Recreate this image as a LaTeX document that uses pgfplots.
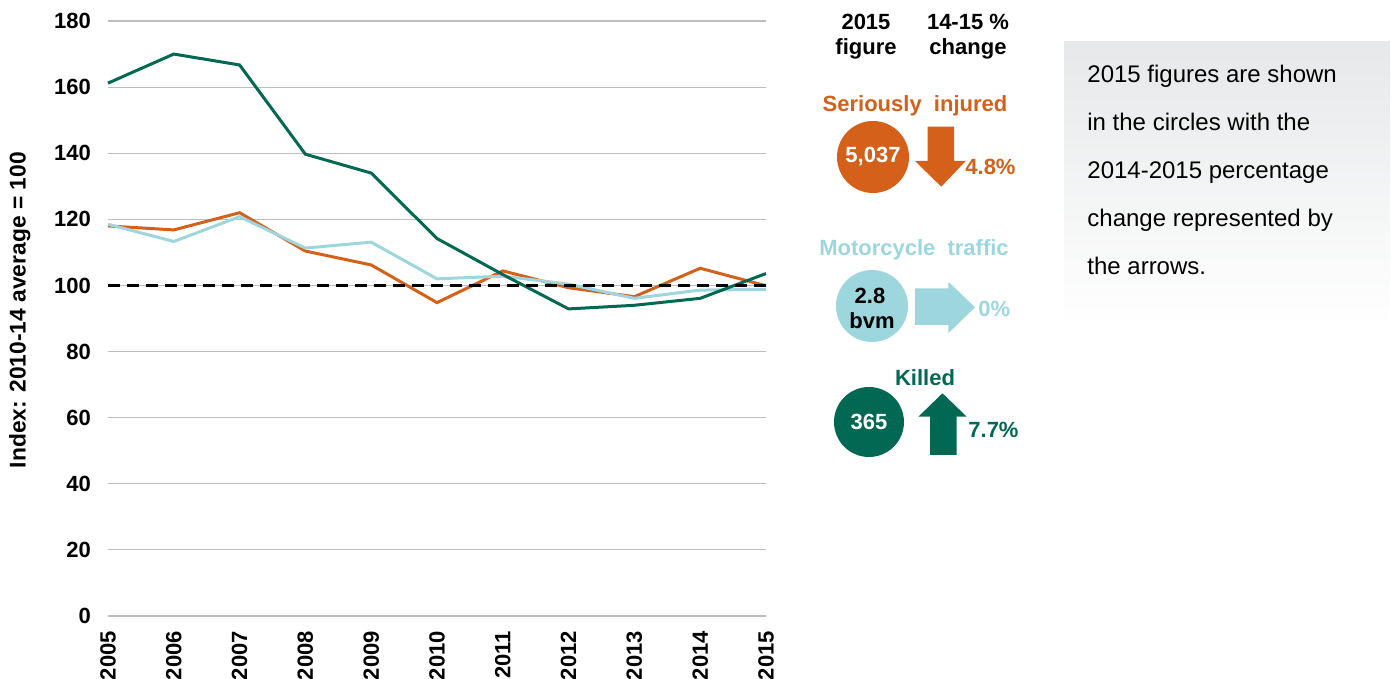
\documentclass[border=0pt]{standalone}
\usepackage{fontspec}
\setmainfont{Liberation Sans}
\usepackage{pgfplots}
\pgfplotsset{compat=1.18}
\definecolor{sior}{RGB}{212,96,26}
\definecolor{kgreen}{RGB}{0,104,83}
\definecolor{lblue}{RGB}{158,214,222}
\definecolor{gridg}{RGB}{190,190,190}
\definecolor{paneltop}{RGB}{230,232,233}
\begin{document}
\begin{tikzpicture}
\begin{axis}[
  at={(54pt,-308pt)}, anchor=south west,
  scale only axis, width=329pt, height=297.5pt,
  xmin=2005, xmax=2015, ymin=0, ymax=180,
  xtick={2005,2006,...,2015}, ytick={0,20,...,180},
  ymajorgrids, grid style={gridg, line width=0.6pt},
  axis line style={draw=none}, tick style={draw=none},
  /pgf/number format/assume math mode=true,
  /pgf/number format/1000 sep={},
  tick label style={font=\fontsize{11}{12}\selectfont\bfseries},
  xticklabel style={rotate=90, anchor=east},
  xticklabel shift=4pt,
  yticklabel shift=5pt,
  ylabel={Index: 2010-14 average = 100},
  ylabel style={font=\fontsize{11.4}{12}\selectfont\bfseries, at={(axis description cs:-0.134,0.514)}, anchor=center},
  clip=false,
]
\addplot[sior, line width=1.5pt] coordinates {
(2005,118.0)(2006,116.8)(2007,122.0)(2008,110.4)(2009,106.2)(2010,94.8)(2011,104.4)(2012,99.3)(2013,96.6)(2014,105.2)(2015,99.9)};
\addplot[lblue, line width=1.5pt] coordinates {
(2005,118.5)(2006,113.3)(2007,120.8)(2008,111.3)(2009,113.1)(2010,102.0)(2011,102.8)(2012,100.4)(2013,96.1)(2014,98.6)(2015,98.8)};
\addplot[kgreen, line width=1.5pt] coordinates {
(2005,161.2)(2006,170.0)(2007,166.7)(2008,139.7)(2009,134.0)(2010,114.2)(2011,103.3)(2012,92.9)(2013,94.0)(2014,96.1)(2015,103.6)};
\addplot[black, line width=1.5pt, dash pattern=on 6pt off 3.5pt] coordinates {(2005,100)(2015,100)};
\end{axis}
\begin{scope}[x=0.5pt,y=-0.5pt]
  \tikzset{lab/.style={font=\fontsize{11}{13}\selectfont\bfseries, inner sep=0pt}}
  \node[lab] at (866,22) {2015};
  \node[lab] at (866,49) {figure};
  \node[lab] at (968,22) {14-15 \%};
  \node[lab] at (968,49) {change};
  \node[lab, text=sior] at (915,106) {Seriously\ \ injured};
  \node[lab, text=lblue] at (914,250) {Motorcycle\ \ traffic};
  \node[lab, text=kgreen] at (925,378) {Killed};
  \fill[sior] (873,157) circle (18pt);
  \fill[lblue] (872,306) circle (18pt);
  \fill[kgreen] (869,422) circle (17.5pt);
  \node[lab, text=white] at (873,157) {5,037};
  \node[lab] at (870,296) {2.8};
  \node[lab] at (872,321) {bvm};
  \node[lab, text=white] at (869,422) {365};
  \fill[sior] (927.7,126.7)--(954,126.7)--(954,161)--(965.7,161)--(941.3,186.7)--(915,161)--(927.7,161)--cycle;
  \fill[lblue] (915,288.3)--(948.3,288.3)--(948.3,281.7)--(975,307.3)--(948.3,333.3)--(948.3,325)--(915,325)--cycle;
  \fill[kgreen] (930,455)--(956.7,455)--(956.7,416.7)--(966.7,416.7)--(942.5,393.3)--(918.3,416.7)--(930,416.7)--cycle;
  \node[lab, text=sior, anchor=west] at (965,167) {4.8\%};
  \node[lab, text=lblue, anchor=west] at (978,309) {0\%};
  \node[lab, text=kgreen, anchor=west] at (968,430) {7.7\%};
  \shade[top color=paneltop, bottom color=white] (1064,42) rectangle (1390,326);
  \tikzset{ptxt/.style={font=\fontsize{12}{14}\selectfont, inner sep=0pt, anchor=base west}}
  \node[ptxt] at (1087,83) {2015 figures are shown};
  \node[ptxt] at (1087,131) {in the circles with the};
  \node[ptxt] at (1087,179) {2014-2015 percentage};
  \node[ptxt] at (1087,227) {change represented by};
  \node[ptxt] at (1087,275) {the arrows.};
\end{scope}
\pgfresetboundingbox
\path[use as bounding box] (0,0) rectangle (697pt,-339.5pt);
\end{tikzpicture}
\end{document}
